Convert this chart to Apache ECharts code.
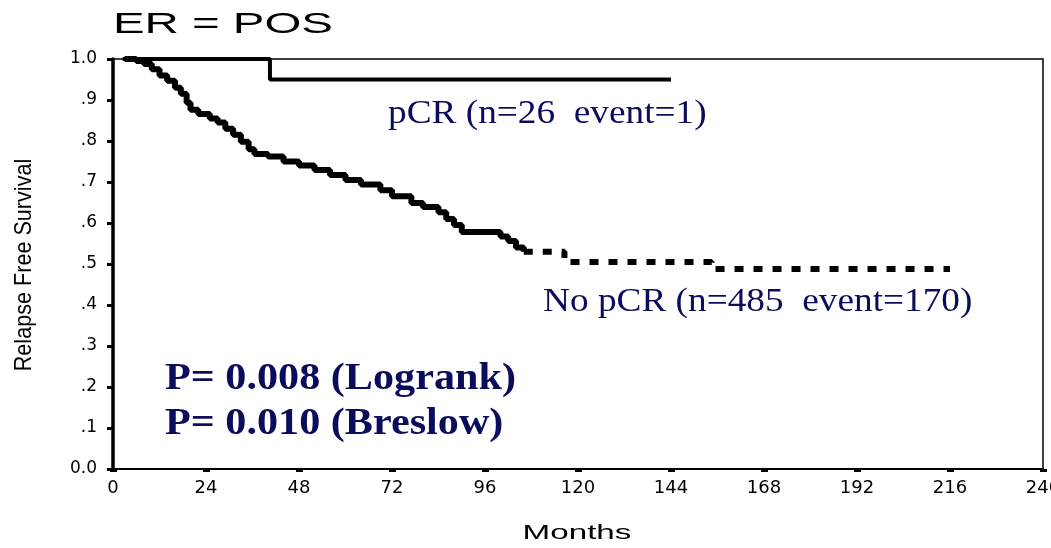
<!DOCTYPE html>
<html>
<head>
<meta charset="utf-8">
<title>ER = POS</title>
<script src="https://cdn.jsdelivr.net/npm/echarts@6/dist/echarts.min.js"></script>
<style>
  html, body { margin: 0; padding: 0; background: #fff; }
  #chart { width: 1051px; height: 548px; }
</style>
</head>
<body>
<div id="chart"></div>
<script>
// Kaplan-Meier 曲线：ER 阳性，pCR 与 No pCR 两组。

const xTicks = [0, 24, 48, 72, 96, 120, 144, 168, 192, 216, 240];
const yTickLabels = ["0.0", ".1", ".2", ".3", ".4", ".5", ".6", ".7", ".8", ".9", "1.0"];

const pcrMonths = [2.5, 40.5, 144];
const pcrSurv = [1.0, 0.95, 0.95];

const noPcrMonths = [3, 6, 8, 10, 12, 14, 16, 17.5, 19, 20, 22, 25, 27, 29, 31, 33, 35, 36.5,
  40, 44, 48, 52, 56, 60, 64, 69, 72, 77, 80, 84, 86, 88, 90, 100, 102, 104, 106, 116.5, 154.5, 216];
const noPcrSurv = [1.0, 0.995, 0.988, 0.975, 0.96, 0.947, 0.93, 0.915, 0.893, 0.876, 0.866, 0.855,
  0.845, 0.83, 0.815, 0.798, 0.78, 0.768, 0.762, 0.75, 0.74, 0.729, 0.717, 0.705, 0.694, 0.68,
  0.665, 0.649, 0.639, 0.626, 0.61, 0.595, 0.578, 0.567, 0.556, 0.54, 0.53, 0.505, 0.488, 0.488];
const tailStart = 106; // 之后删失稀疏，画成虚线

const NAVY = "#0c0c5c";
const SANS = "'Liberation Sans', Arial, sans-serif";
const SERIF = "'Liberation Serif', 'Times New Roman', serif";

function pairs(xs, ys) {
  return xs.map((x, i) => [x, ys[i]]);
}

// 原图文字横向拉宽，用 scaleX 模拟
function label(text, x, y, font, color, scaleX, align) {
  return {
    type: "text", x, y, scaleX,
    style: { text, x: 0, y: 0, fill: color, font, textAlign: align || "left", textVerticalAlign: "middle" },
  };
}

const noPcrAll = pairs(noPcrMonths, noPcrSurv);
const noPcrHead = noPcrAll.filter((p) => p[0] <= tailStart);
const noPcrTail = noPcrAll.filter((p) => p[0] >= tailStart);

const chart = echarts.init(document.getElementById("chart"), null, { renderer: "canvas" });

chart.setOption({
  animation: false,
  backgroundColor: "#fff",
  grid: {
    left: 113, right: 8, top: 59, bottom: 79,
    outerBoundsMode: "none",
    containLabel: false,
    show: true, borderColor: "#000", borderWidth: 1.5, backgroundColor: "transparent",
  },
  xAxis: {
    type: "value",
    min: 0, max: 240, interval: 24,
    axisLine: { show: true, lineStyle: { color: "#000", width: 2 } },
    axisTick: { show: true, length: 3, lineStyle: { color: "#000", width: 7 } },
    axisLabel: {
      margin: 10, color: "#000", fontFamily: "'DejaVu Sans', sans-serif", fontSize: 18,
      formatter: (v) => String(xTicks[xTicks.indexOf(v)]),
    },
    splitLine: { show: false },
  },
  yAxis: {
    type: "value",
    min: 0, max: 1, interval: 0.1,
    axisLine: { show: true, lineStyle: { color: "#000", width: 3.5 } },
    axisTick: { show: true, length: 6, lineStyle: { color: "#000", width: 3 } },
    axisLabel: {
      margin: 16, color: "#000", fontFamily: "'DejaVu Sans', sans-serif", fontSize: 17,
      formatter: (v) => yTickLabels[Math.round(v * 10)],
    },
    splitLine: { show: false },
  },
  series: [
    {
      name: "pCR",
      type: "line",
      step: "end",
      showSymbol: false,
      data: pairs(pcrMonths, pcrSurv),
      lineStyle: { color: "#000", width: 4 },
      z: 3,
    },
    {
      name: "No pCR",
      type: "line",
      step: "end",
      showSymbol: false,
      data: noPcrHead,
      lineStyle: { color: "#000", width: 6 },
      z: 2,
    },
    {
      name: "No pCR tail",
      type: "line",
      step: "end",
      showSymbol: false,
      data: noPcrTail,
      lineStyle: { color: "#000", width: 6, type: [9, 10] },
      z: 2,
    },
  ],
  graphic: [
    label("ER = POS", 113, 25, "30px " + SANS, "#000", 1.58),
    label("Months", 577, 533, "21px " + SANS, "#000", 1.58, "center"),
    {
      type: "text", x: 24, y: 265, rotation: Math.PI / 2, scaleX: 0.9,
      style: { text: "Relapse Free Survival", x: 0, y: 0, fill: "#000", font: "24px " + SANS,
        textAlign: "center", textVerticalAlign: "middle" },
    },
    label("pCR (n=26  event=1)", 388, 114, "33px " + SERIF, NAVY, 1.13),
    label("No pCR (n=485  event=170)", 543, 302, "33px " + SERIF, NAVY, 1.13),
    label("P= 0.008 (Logrank)", 165, 379, "bold 37px " + SERIF, NAVY, 1.14),
    label("P= 0.010 (Breslow)", 165, 424, "bold 37px " + SERIF, NAVY, 1.14),
  ],
});

window.addEventListener("resize", () => chart.resize());
</script>
</body>
</html>
